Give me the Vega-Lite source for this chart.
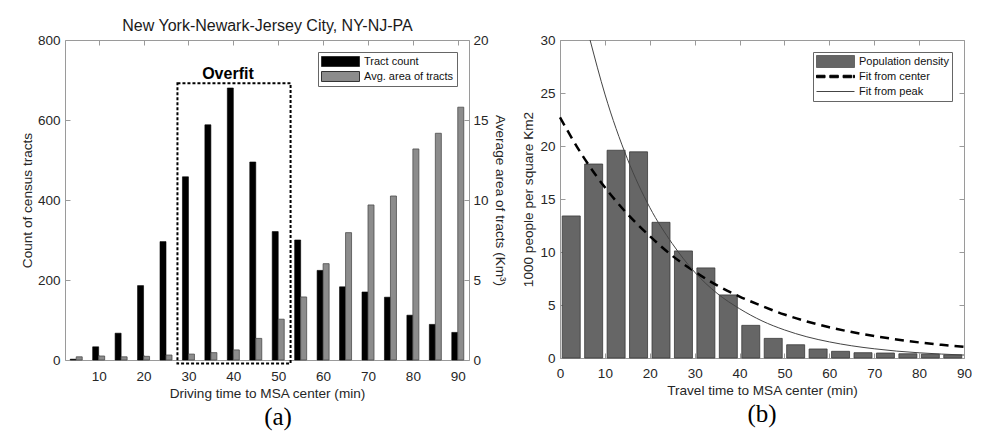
{
  "$schema": "https://vega.github.io/schema/vega-lite/v6.json",
  "background": "white",
  "padding": {"left": 20, "top": 17, "right": 0, "bottom": 0},
  "bounds": "flush",
  "spacing": 91,
  "resolve": {"scale": {"color": "independent"}, "legend": {"color": "independent"}},
  "config": {
    "view": {"stroke": null},
    "font": "Liberation Sans",
    "axis": {
      "grid": false, "domainColor": "#9a9a9a", "tickColor": "#9a9a9a", "tickSize": -5, "tickWidth": 1, "domainWidth": 1,
      "labelFont": "Liberation Sans", "labelFontSize": 13.5, "labelColor": "#262626",
      "titleFont": "Liberation Sans", "titleFontSize": 13.6, "titleFontWeight": "normal", "titleColor": "#262626",
      "labelFlush": false, "labelOverlap": false, "labelPadding": 10, "titlePadding": 6
    },
    "legend": {
      "orient": "top-right", "offset": 12, "padding": 3, "strokeColor": "#666666", "fillColor": "white",
      "labelFont": "Liberation Sans", "labelFontSize": 11, "labelColor": "#111111", "labelOffset": 4,
      "rowPadding": 2, "clipHeight": 13, "symbolSize": 1444, "symbolStrokeWidth": 1, "symbolStrokeColor": "#333333",
      "symbolType": "M-1,-0.263H1V0.263H-1Z"
    },
    "title": {"font": "Liberation Serif", "fontSize": 25, "fontWeight": "normal", "color": "#000000"}
  },
  "hconcat": [
    {
      "width": 404,
      "height": 320,
      "title": {"text": "(a)", "orient": "bottom", "frame": "group", "anchor": "middle", "dx": 11, "offset": 5},
      "data": {"values": [
        {"t": 5, "count": 2, "area": 0.2},
        {"t": 10, "count": 33, "area": 0.25},
        {"t": 15, "count": 67, "area": 0.2},
        {"t": 20, "count": 186, "area": 0.23},
        {"t": 25, "count": 296, "area": 0.31},
        {"t": 30, "count": 458, "area": 0.37},
        {"t": 35, "count": 588, "area": 0.46},
        {"t": 40, "count": 680, "area": 0.63},
        {"t": 45, "count": 495, "area": 1.35},
        {"t": 50, "count": 321, "area": 2.55},
        {"t": 55, "count": 300, "area": 3.94},
        {"t": 60, "count": 224, "area": 6.02},
        {"t": 65, "count": 183, "area": 7.96},
        {"t": 70, "count": 170, "area": 9.69},
        {"t": 75, "count": 157, "area": 10.25},
        {"t": 80, "count": 112, "area": 13.19},
        {"t": 85, "count": 89, "area": 14.17},
        {"t": 90, "count": 69, "area": 15.8}
      ]},
      "resolve": {"scale": {"y": "independent"}, "axis": {"x": "independent"}},
      "layer": [
        {
          "mark": {"type": "bar", "width": 6, "xOffset": -3, "stroke": "#000000", "strokeWidth": 0.6},
          "encoding": {
            "x": {"field": "t", "type": "quantitative", "scale": {"domain": [2.5, 92.5], "nice": false, "zero": false, "padding": 0},
              "axis": {"orient": "bottom", "values": [10, 20, 30, 40, 50, 60, 70, 80, 90], "title": "Driving time to MSA center (min)", "labelPadding": 14, "titlePadding": 4}},
            "y": {"field": "count", "type": "quantitative", "scale": {"domain": [0, 800], "nice": false},
              "axis": {"orient": "left", "values": [0, 200, 400, 600, 800], "title": "Count of census tracts", "labelPadding": 10, "titlePadding": 3}},
            "color": {"datum": "Tract count", "scale": {"domain": ["Tract count", "Avg. area of tracts"], "range": ["#000000", "#8c8c8c"]},
              "legend": {"title": null}}
          }
        },
        {
          "mark": {"type": "bar", "width": 6, "xOffset": 3, "stroke": "#4d4d4d", "strokeWidth": 0.8},
          "encoding": {
            "x": {"field": "t", "type": "quantitative", "scale": {"domain": [2.5, 92.5], "nice": false, "zero": false, "padding": 0},
              "axis": {"orient": "top", "values": [10, 20, 30, 40, 50, 60, 70, 80, 90], "labels": false, "title": "New York-Newark-Jersey City, NY-NJ-PA", "titleFontSize": 16, "titleColor": "#1a1a1a", "titlePadding": 6}},
            "y": {"field": "area", "type": "quantitative", "scale": {"domain": [0, 20], "nice": false},
              "axis": {"orient": "right", "values": [0, 5, 10, 15, 20], "title": "Average area of tracts (Km³)", "labelPadding": 9, "titlePadding": 4}},
            "color": {"datum": "Avg. area of tracts"}
          }
        },
        {
          "data": {"values": [{"x1": 27.55, "x2": 52.75, "y1": -9, "y2": 692}]},
          "mark": {"type": "rect", "filled": false, "stroke": "#000000", "strokeWidth": 2, "strokeDash": [3, 2]},
          "encoding": {
            "x": {"field": "x1", "type": "quantitative", "scale": {"domain": [2.5, 92.5], "nice": false, "zero": false, "padding": 0}, "axis": null},
            "x2": {"field": "x2"},
            "y": {"field": "y1", "type": "quantitative", "scale": {"domain": [0, 800], "nice": false}, "axis": null},
            "y2": {"field": "y2"}
          }
        },
        {
          "data": {"values": [{"cx": 38.8, "y2": 692, "label": "Overfit"}]},
          "mark": {"type": "text", "font": "Liberation Sans", "fontSize": 16, "fontWeight": "bold", "baseline": "alphabetic", "align": "center", "dy": -4, "color": "#000000"},
          "encoding": {
            "x": {"field": "cx", "type": "quantitative", "scale": {"domain": [2.5, 92.5], "nice": false, "zero": false, "padding": 0}, "axis": null},
            "y": {"field": "y2", "type": "quantitative", "scale": {"domain": [0, 800], "nice": false}, "axis": null},
            "text": {"field": "label"}
          }
        }
      ]
    },
    {
      "width": 404,
      "height": 318,
      "title": {"text": "(b)", "orient": "bottom", "frame": "group", "anchor": "middle", "offset": 5},
      "resolve": {"axis": {"x": "independent", "y": "independent"}},
      "layer": [
        {
          "data": {"values": [
            {"t": 2.5, "d": 13.4}, {"t": 7.5, "d": 18.3}, {"t": 12.5, "d": 19.6}, {"t": 17.5, "d": 19.45},
            {"t": 22.5, "d": 12.8}, {"t": 27.5, "d": 10.1}, {"t": 32.5, "d": 8.5}, {"t": 37.5, "d": 5.95},
            {"t": 42.5, "d": 3.08}, {"t": 47.5, "d": 1.85}, {"t": 52.5, "d": 1.25}, {"t": 57.5, "d": 0.85},
            {"t": 62.5, "d": 0.63}, {"t": 67.5, "d": 0.5}, {"t": 72.5, "d": 0.47}, {"t": 77.5, "d": 0.4},
            {"t": 82.5, "d": 0.36}, {"t": 87.5, "d": 0.3}
          ]},
          "mark": {"type": "bar", "width": 18, "stroke": "#3a3a3a", "strokeWidth": 0.8},
          "encoding": {
            "x": {"field": "t", "type": "quantitative", "scale": {"domain": [0, 90], "nice": false, "zero": false, "padding": 0},
              "axis": {"orient": "bottom", "values": [0, 10, 20, 30, 40, 50, 60, 70, 80, 90], "title": "Travel time to MSA center (min)", "labelPadding": 13, "titlePadding": 4}},
            "y": {"field": "d", "type": "quantitative", "scale": {"domain": [0, 30], "nice": false},
              "axis": {"orient": "left", "values": [0, 5, 10, 15, 20, 25, 30], "title": "1000 people per square Km2", "labelPadding": 10, "titlePadding": 4}},
            "color": {"datum": "Population density",
              "scale": {"domain": ["Population density", "Fit from center", "Fit from peak"], "range": ["#666666", "#000000", "#444444"]},
              "legend": {"title": null, "encode": {"symbols": {"update": {
                "shape": {"signal": "datum.value === 'Population density' ? 'M-1,-0.316H1V0.316H-1Z' : (datum.value === 'Fit from center' ? 'M-1,-0.065H-0.55V0.065H-1Z M-0.3,-0.065H0.15V0.065H-0.3Z M0.4,-0.065H0.85V0.065H0.4Z M0.94,-0.065H1V0.065H0.94Z' : 'stroke')"},
                "fill": {"signal": "datum.value === 'Fit from peak' ? 'transparent' : (datum.value === 'Fit from center' ? '#000000' : '#666666')"},
                "stroke": {"signal": "datum.value === 'Fit from center' ? 'transparent' : (datum.value === 'Fit from peak' ? '#444444' : '#333333')"}
              }}}}}
          }
        },
        {
          "data": {"values": [
            {"t": 0, "f": 22.7}, {"t": 5, "f": 19.1}, {"t": 10, "f": 16.1}, {"t": 15, "f": 13.6}, {"t": 20, "f": 11.5},
            {"t": 25, "f": 9.65}, {"t": 30, "f": 8.15}, {"t": 35, "f": 6.85}, {"t": 40, "f": 5.8}, {"t": 45, "f": 4.9},
            {"t": 50, "f": 4.1}, {"t": 55, "f": 3.45}, {"t": 60, "f": 2.9}, {"t": 65, "f": 2.45}, {"t": 70, "f": 2.07},
            {"t": 75, "f": 1.75}, {"t": 80, "f": 1.47}, {"t": 85, "f": 1.24}, {"t": 90, "f": 1.05}
          ]},
          "mark": {"type": "line", "strokeWidth": 2.5, "strokeDash": [9, 6], "interpolate": "monotone"},
          "encoding": {
            "x": {"field": "t", "type": "quantitative", "scale": {"domain": [0, 90], "nice": false, "zero": false, "padding": 0},
              "axis": {"orient": "top", "values": [0, 10, 20, 30, 40, 50, 60, 70, 80, 90], "labels": false, "title": null}},
            "y": {"field": "f", "type": "quantitative", "scale": {"domain": [0, 30], "nice": false},
              "axis": {"orient": "right", "values": [0, 5, 10, 15, 20, 25, 30], "labels": false, "title": null}},
            "color": {"datum": "Fit from center"}
          }
        },
        {
          "data": {"values": [
            {"t": 6.7, "f": 30}, {"t": 10, "f": 24.9}, {"t": 15, "f": 18.8}, {"t": 20, "f": 14.2}, {"t": 25, "f": 10.8},
            {"t": 30, "f": 8.1}, {"t": 35, "f": 6.1}, {"t": 40, "f": 4.65}, {"t": 45, "f": 3.5}, {"t": 50, "f": 2.65},
            {"t": 55, "f": 2.0}, {"t": 60, "f": 1.52}, {"t": 65, "f": 1.15}, {"t": 70, "f": 0.87}, {"t": 75, "f": 0.65},
            {"t": 80, "f": 0.49}, {"t": 85, "f": 0.37}, {"t": 90, "f": 0.28}
          ]},
          "mark": {"type": "line", "strokeWidth": 1, "interpolate": "monotone"},
          "encoding": {
            "x": {"field": "t", "type": "quantitative", "scale": {"domain": [0, 90], "nice": false, "zero": false, "padding": 0}, "axis": null},
            "y": {"field": "f", "type": "quantitative", "scale": {"domain": [0, 30], "nice": false}, "axis": null},
            "color": {"datum": "Fit from peak"}
          }
        }
      ]
    }
  ]
}
